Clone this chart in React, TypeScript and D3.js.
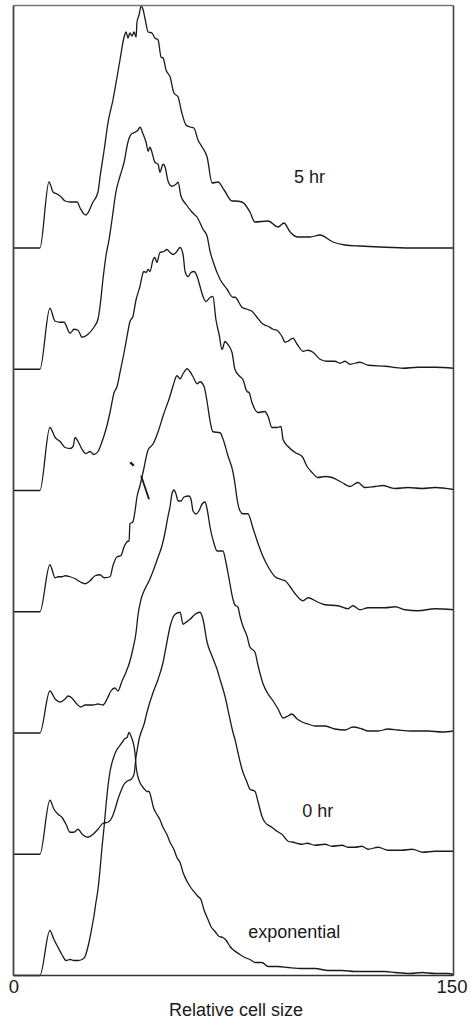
import React from "react";
import * as d3 from "d3";

// Relative cell size (x) vs. relative number of cells (y), one trace per time point
const series5hr: [number, number][] = [[0,0],[9.0,0],[12.1,66],[13.5,56],[14.8,54],[15.9,52],[17.6,47],[19.3,46],[21.7,46],[22.7,40],[24.0,34],[24.7,33],[27.1,46],[28.8,56],[29.5,71],[30.9,98],[32.2,125],[33.9,148],[35.3,171],[36.3,188],[37.7,211],[38.4,216],[39.0,210],[39.7,215],[40.4,212],[41.1,216],[41.8,211],[42.1,226],[42.8,233],[43.5,242],[44.2,238],[44.8,230],[45.9,216],[47.2,215],[48.2,210],[49.3,208],[50.3,191],[51.0,190],[52.0,178],[53.4,171],[54.7,155],[56.1,151],[57.4,135],[58.8,123],[60.2,121],[61.5,120],[62.9,108],[64.3,101],[66.0,91],[67.7,65],[69.7,66],[71.8,58],[74.5,47],[75.5,47],[77.9,46],[80.6,36],[82.3,26],[86.8,27],[90.2,21],[92.2,25],[94.3,16],[97.0,11],[101.1,11],[104.5,13],[108.9,6],[113.0,3],[118.1,2],[124.9,1],[135.2,0],[150,0]];
const seriesB: [number, number][] = [[0,0],[9.0,0],[12.4,61],[14.2,48],[15.9,47],[17.2,47],[19.3,36],[20.6,40],[22.0,39],[23.4,32],[25.4,35],[27.4,42],[28.8,50],[29.5,63],[30.5,90],[31.5,113],[32.6,130],[33.6,150],[34.9,177],[36.3,193],[37.7,207],[39.0,227],[40.1,235],[41.4,237],[42.4,239],[43.1,242],[44.2,235],[45.2,227],[45.9,218],[46.5,222],[47.2,217],[48.2,207],[49.3,205],[49.9,197],[51.0,205],[51.7,202],[52.7,188],[54.0,183],[55.4,185],[56.1,187],[57.1,173],[58.8,165],[60.9,157],[62.6,152],[64.6,140],[66.0,133],[67.0,118],[68.0,108],[70.4,90],[72.8,80],[74.8,72],[75.5,72],[77.9,62],[79.6,60],[81.3,58],[83.0,52],[85.1,45],[86.8,43],[88.5,40],[89.8,39],[91.5,33],[92.6,27],[93.6,28],[95.3,31],[96.7,25],[98.7,18],[100.4,19],[102.1,17],[104.5,10],[106.9,8],[109.6,8],[111.3,6],[113.0,8],[114.7,5],[118.1,7],[120.9,4],[126.7,3],[132.8,1],[137.9,2],[143.7,2],[150,1]];
const seriesC: [number, number][] = [[0,0],[9.0,0],[12.4,63],[14.2,53],[15.9,49],[17.6,43],[19.3,42],[20.3,44],[21.0,53],[22.0,49],[23.4,41],[24.7,37],[26.1,39],[27.4,36],[28.8,39],[30.2,49],[31.5,61],[32.9,78],[34.3,98],[35.3,104],[36.3,118],[37.7,138],[38.7,154],[39.7,169],[40.7,174],[41.8,191],[43.1,204],[44.2,218],[44.5,219],[45.2,218],[45.9,221],[46.5,219],[47.6,231],[48.2,233],[48.9,228],[49.9,238],[51.3,239],[52.3,241],[53.4,238],[54.4,236],[55.4,238],[56.8,243],[57.8,236],[58.5,219],[59.5,214],[60.5,218],[61.5,219],[62.6,214],[63.6,204],[64.6,194],[65.6,189],[67.0,193],[68.0,194],[69.0,171],[70.1,156],[71.1,141],[72.1,149],[73.1,146],[74.5,138],[75.5,121],[77.2,114],[78.2,111],[79.6,99],[80.3,98],[81.3,88],[83.4,78],[85.7,79],[86.8,74],[88.1,63],[89.8,63],[91.2,64],[91.9,51],[93.6,44],[96.0,38],[98.4,34],[100.1,24],[101.8,18],[103.8,13],[106.2,14],[108.6,13],[112.0,8],[114.7,4],[117.4,8],[119.8,3],[123.2,4],[126.0,5],[128.4,3],[130.1,2],[134.5,3],[139.3,2],[143.7,3],[150,1]];
const seriesD: [number, number][] = [[0,0],[9.0,0],[12.4,47],[14.2,34],[15.2,35],[16.5,35],[17.6,36],[19.3,35],[21.0,33],[22.7,30],[24.4,28],[26.1,31],[27.8,36],[29.5,37],[30.9,34],[32.9,35],[33.9,46],[35.3,55],[36.6,56],[37.7,65],[38.7,70],[39.4,71],[39.7,88],[40.7,90],[41.4,100],[42.1,115],[43.1,126],[44.2,140],[45.9,162],[47.6,168],[49.3,180],[51.0,196],[53.4,216],[54.4,226],[55.7,236],[56.8,233],[57.8,238],[59.2,243],[60.2,240],[61.2,235],[62.6,228],[63.6,230],[65.0,225],[66.0,210],[67.0,191],[68.0,180],[70.4,179],[71.4,173],[73.1,156],[74.8,140],[75.5,128],[76.2,113],[77.2,101],[78.2,98],[79.9,98],[81.7,83],[83.4,68],[85.1,55],[86.8,45],[89.2,35],[91.5,32],[92.6,31],[94.3,25],[96.0,18],[98.7,11],[100.4,14],[103.5,10],[106.2,7],[110.6,6],[114.0,3],[115.7,6],[118.1,2],[120.9,4],[126.7,4],[130.1,5],[133.5,2],[137.9,1],[143.7,3],[150,2]];
const seriesE: [number, number][] = [[0,0],[9.0,0],[12.4,42],[14.2,34],[15.9,31],[17.6,34],[18.6,37],[19.9,35],[21.3,30],[23.0,26],[24.4,28],[27.1,28],[28.8,29],[30.5,28],[31.9,34],[33.2,42],[34.6,45],[35.6,42],[37.0,52],[38.4,61],[39.7,72],[40.7,84],[41.8,101],[42.4,117],[43.5,134],[44.8,144],[46.2,152],[47.6,162],[49.3,176],[50.6,187],[51.7,201],[52.7,217],[53.4,227],[54.0,239],[54.7,243],[55.4,239],[56.1,232],[57.1,232],[58.1,236],[59.8,237],[60.5,234],[61.2,222],[62.2,219],[63.2,222],[64.3,229],[65.3,231],[66.0,224],[67.0,206],[68.4,189],[69.4,182],[71.4,182],[72.4,171],[73.5,154],[74.8,134],[75.5,128],[76.5,126],[77.2,117],[78.2,107],[79.6,97],[80.6,86],[82.3,81],[83.4,67],[85.1,49],[86.8,39],[88.5,32],[90.2,24],[91.9,15],[93.6,17],[94.9,19],[96.7,14],[98.4,11],[100.4,9],[102.8,7],[106.2,7],[109.6,4],[113.0,3],[115.7,6],[118.8,4],[120.9,2],[124.3,2],[127.7,4],[131.1,3],[135.9,2],[141.3,2],[146.1,1],[150,2]];
const series0hr: [number, number][] = [[0,0],[9.0,0],[12.4,54],[13.8,45],[15.2,40],[16.5,37],[17.9,30],[19.3,22],[20.6,22],[22.0,25],[23.4,20],[25.4,17],[27.1,20],[28.8,25],[30.5,31],[32.2,32],[33.6,37],[34.6,45],[35.6,55],[36.6,63],[37.7,70],[38.7,73],[40.1,75],[41.1,80],[41.8,98],[42.1,103],[42.8,115],[43.5,122],[44.5,130],[45.5,142],[47.6,162],[49.3,175],[51.0,192],[52.3,212],[53.4,228],[55.1,240],[56.8,242],[57.8,230],[58.8,232],[60.2,235],[61.9,240],[63.6,242],[64.6,235],[66.0,212],[67.7,198],[69.4,185],[70.4,175],[72.1,158],[73.8,135],[74.8,122],[75.5,115],[76.5,102],[77.9,85],[79.6,72],[80.6,65],[82.3,63],[83.4,52],[84.7,38],[85.7,32],[88.1,27],[89.8,23],[91.5,20],[93.6,13],[95.3,12],[98.4,10],[100.1,11],[102.8,9],[106.2,10],[108.6,8],[112.0,9],[114.0,7],[116.4,7],[118.8,8],[120.9,5],[124.3,7],[127.7,4],[132.4,4],[135.9,5],[139.6,2],[143.7,3],[150,3]];
const seriesExp: [number, number][] = [[0,0],[9.0,0],[12.4,45],[13.8,36],[15.2,28],[16.5,21],[17.9,15],[19.3,16],[20.6,15],[22.0,15],[23.4,16],[24.4,19],[25.4,29],[26.4,43],[27.4,59],[28.1,73],[28.8,86],[29.5,106],[30.2,129],[30.9,149],[31.5,169],[32.2,189],[32.9,204],[33.9,216],[34.9,224],[36.0,229],[37.0,233],[38.0,237],[38.7,238],[39.4,243],[40.1,239],[40.7,234],[41.4,223],[41.8,209],[42.4,199],[43.1,193],[44.2,188],[45.5,184],[46.2,184],[46.9,178],[47.6,169],[48.9,161],[49.9,156],[51.0,148],[52.3,141],[53.4,133],[54.7,126],[55.7,118],[56.8,113],[57.8,103],[59.2,94],[60.2,89],[61.5,84],[62.9,79],[63.9,76],[64.9,66],[66.3,56],[67.3,49],[68.7,44],[70.1,39],[71.4,38],[72.8,34],[73.8,29],[74.8,26],[77.2,21],[78.9,18],[80.6,16],[82.3,13],[84.7,13],[86.8,9],[90.2,9],[93.6,8],[98.4,7],[102.8,7],[107.2,5],[112.0,5],[116.4,4],[120.9,4],[126.7,4],[130.1,3],[135.2,2],[139.3,3],[143.7,2],[148.1,2],[150,1]];

// top to bottom
const traces = [series5hr, seriesB, seriesC, seriesD, seriesE, series0hr, seriesExp];

// labels: [text, trace index, x position (cell size), height (counts)]
const traceLabels: [string, number, number, number][] = [
  ["5 hr", 0, 95.6, 65],
  ["0 hr", 5, 98.4, 37],
  ["exponential", 6, 80.0, 37.5],
];

// small hand-drawn marks on trace index 3: [x1, y1, x2, y2]
const markSegments: [number, number, number, number, number][] = [
  [39.8, 149.5, 41.0, 146.0, 2.4],
  [43.5, 136.0, 46.2, 112.5, 1.8],
];

const xTicks = [0, 150];
const xTitle = "Relative cell size";

const W = 470, H = 1020;
const left = 13.5, right = 453.5, top = 5.5, bottom = 975.5;
const font = "'Liberation Sans', Arial, Helvetica, sans-serif";

export default function App() {
  const x = d3.scaleLinear().domain([0, 150]).range([left, right]);
  const offsets = d3.scaleLinear().domain([0, traces.length - 1]).range([248, bottom]);
  const h = d3.scaleLinear().domain([0, 242.5]).range([0, 242.5]);
  const yOf = (i: number, v: number) => offsets(i) - h(v);

  const line = (i: number) =>
    d3.line<[number, number]>()
      .x((d) => x(d[0]))
      .y((d) => yOf(i, d[1]))
      .curve(d3.curveMonotoneX);

  return (
    <svg width={W} height={H} style={{ position: "absolute", left: 0, top: 0, background: "#fff" }}>
      <rect x={0} y={0} width={W} height={H} fill="#fff" />
      {traces.map((t, i) => (
        <path key={i} d={line(i)(t) || ""} fill="none" stroke="#1a1a1a" strokeWidth={1.3} strokeLinejoin="round" />
      ))}
      {markSegments.map((m, k) => (
        <line key={k} x1={x(m[0])} y1={yOf(3, m[1])} x2={x(m[2])} y2={yOf(3, m[3])} stroke="#1a1a1a" strokeWidth={m[4]} />
      ))}
      <line x1={left} y1={top} x2={right} y2={top} stroke="#777" strokeWidth={1.6} />
      <line x1={right} y1={top} x2={right} y2={bottom} stroke="#444" strokeWidth={1.6} />
      <line x1={left} y1={top} x2={left} y2={bottom} stroke="#444" strokeWidth={1.8} />
      <line x1={left} y1={bottom} x2={right} y2={bottom} stroke="#333" strokeWidth={1.6} />
      {traceLabels.map(([txt, i, xv, yv]) => (
        <text key={txt} x={x(xv)} y={yOf(i, yv)} fontFamily={font} fontSize={18} fill="#1a1a1a">{txt}</text>
      ))}
      {xTicks.map((t) => (
        <text key={t} x={x(t) + (t === 0 ? 0.5 : -1.5)} y={993} textAnchor="middle" fontFamily={font} fontSize={18.5} fill="#1a1a1a">{t}</text>
      ))}
      <text x={236} y={1016} textAnchor="middle" fontFamily={font} fontSize={18} fill="#1a1a1a">{xTitle}</text>
    </svg>
  );
}
